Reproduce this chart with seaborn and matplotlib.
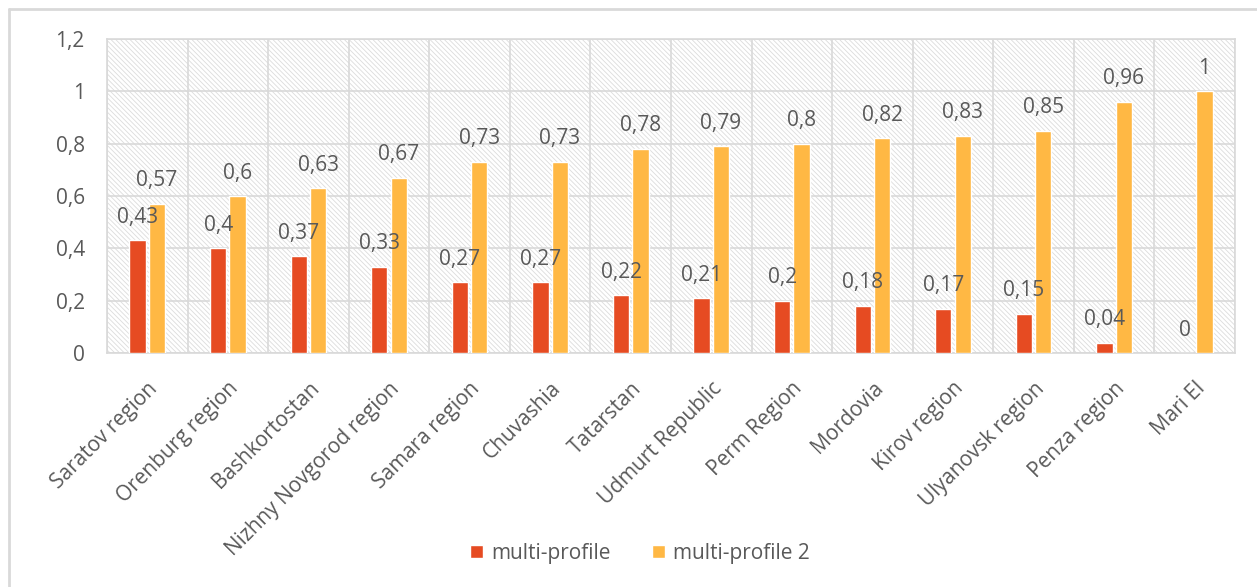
import matplotlib
matplotlib.use("Agg")
import matplotlib.pyplot as plt
import seaborn as sns
import pandas as pd
import numpy as np
from matplotlib.patches import Rectangle
from matplotlib.lines import Line2D

regions = ["Saratov region", "Orenburg region", "Bashkortostan", "Nizhny Novgorod region",
           "Samara region", "Chuvashia", "Tatarstan", "Udmurt Republic", "Perm Region",
           "Mordovia", "Kirov region", "Ulyanovsk region", "Penza region", "Mari El"]
multi_profile = [0.43, 0.40, 0.37, 0.33, 0.27, 0.27, 0.22, 0.21, 0.20, 0.18, 0.17, 0.15, 0.04, 0.0]
multi_profile_2 = [0.57, 0.60, 0.63, 0.67, 0.73, 0.73, 0.78, 0.79, 0.80, 0.82, 0.83, 0.85, 0.96, 1.0]
series_names = ["multi-profile", "multi-profile 2"]
y_ticks = [0, 0.2, 0.4, 0.6, 0.8, 1.0, 1.2]

colors = ["#E64B22", "#FFB844"]
text_color = "#595959"
grid_color = "#D9D9D9"

sns.set_theme(style="white")
plt.rcParams["font.family"] = ["Open Sans", "DejaVu Sans"]
plt.rcParams["hatch.linewidth"] = 0.6
plt.rcParams["hatch.color"] = "#DCDCDC"

df = pd.DataFrame({
    "region": regions * 2,
    "value": multi_profile + multi_profile_2,
    "series": [series_names[0]] * len(regions) + [series_names[1]] * len(regions),
})

fs = 15

fig = plt.figure(figsize=(12.57, 5.87), dpi=100)
ax = fig.add_axes([107 / 1257, 1 - 353 / 587, (1235 - 107) / 1257, (353 - 39) / 587])

# hatched plot-area background
bg = Rectangle((0, 0), 1, 1, transform=ax.transAxes, facecolor="white",
               hatch="\\" * 7, edgecolor="#DCDCDC", linewidth=0, zorder=0)
ax.add_patch(bg)

sns.barplot(data=df, x="region", y="value", hue="series", palette=colors,
            width=0.48, gap=0.16, ax=ax, zorder=3, legend=True, saturation=1)

ax.set_ylim(0, 1.2)
ax.set_xlim(-0.5, len(regions) - 0.5)
ax.set_yticks(y_ticks)
ax.set_yticklabels([("%g" % v).replace(".", ",") for v in y_ticks])
ax.set_xticks(range(len(regions)))
ax.set_xticklabels(regions, rotation=45, ha="right", rotation_mode="anchor")
ax.set_xticks(np.arange(-0.5, len(regions), 1), minor=True)
ax.tick_params(axis="x", which="both", length=0, pad=18, labelsize=fs, colors=text_color)
ax.tick_params(axis="y", length=0, pad=16, labelsize=fs, colors=text_color)
ax.grid(axis="y", which="major", color=grid_color, linewidth=1.2, zorder=1)
ax.grid(axis="x", which="minor", color=grid_color, linewidth=1.2, zorder=1)
ax.grid(axis="x", which="major", visible=False)
ax.set_axisbelow(True)
for s in ax.spines.values():
    s.set_color(grid_color)
    s.set_linewidth(1.2)
ax.set_xlabel("")
ax.set_ylabel("")

for cont in ax.containers:
    ax.bar_label(cont, labels=[("%g" % v).replace(".", ",") for v in cont.datavalues],
                 padding=9, fontsize=fs, color=text_color)

handles, labels = ax.get_legend_handles_labels()
ax.legend(handles, labels, loc="center", bbox_to_anchor=(640 / 1257, 1 - 553 / 587),
          bbox_transform=fig.transFigure, ncol=2, frameon=False, fontsize=fs,
          labelcolor=text_color, handlelength=0.6, handleheight=0.6, columnspacing=2.0,
          handletextpad=0.4)

# outer chart frame (left and top visible)
fig.add_artist(Line2D([9 / 1257, 9 / 1257], [0, 1 - 9 / 587], transform=fig.transFigure,
                      color=grid_color, linewidth=2))
fig.add_artist(Line2D([9 / 1257, 1], [1 - 9 / 587, 1 - 9 / 587], transform=fig.transFigure,
                      color=grid_color, linewidth=2))

fig.savefig("out.png", dpi=100)
